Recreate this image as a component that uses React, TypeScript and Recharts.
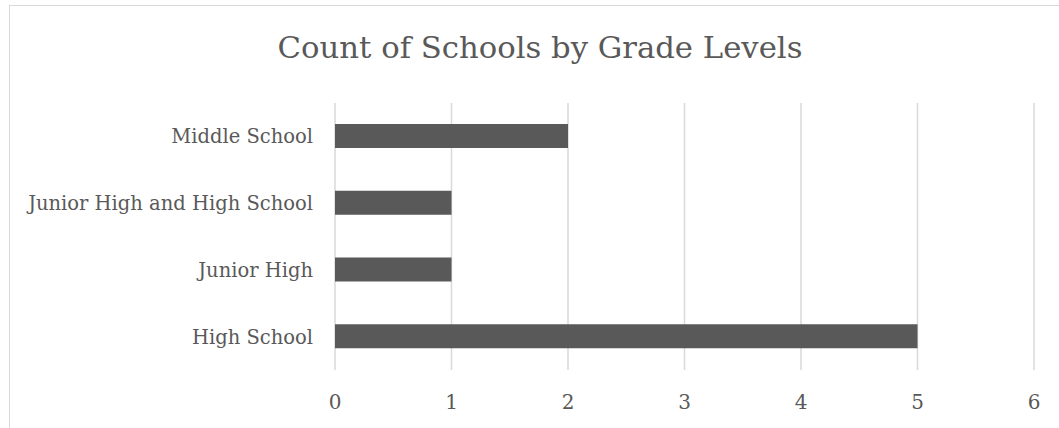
import { BarChart, Bar, XAxis, YAxis, CartesianGrid } from "recharts";

const categories = [
  "Middle School",
  "Junior High and High School",
  "Junior High",
  "High School",
];
const schoolCounts = [2, 1, 1, 5];
const xTicks = [0, 1, 2, 3, 4, 5, 6];

const data = categories.map((name, i) => ({ name, count: schoolCounts[i] }));

const FONT = "'DejaVu Serif', serif";
const TEXT = "#595959";

export default function App() {
  return (
    <div
      style={{
        position: "absolute",
        left: 9,
        top: 5,
        width: 1060,
        height: 430,
        border: "1px solid #d9d9d9",
        background: "#fff",
        fontFamily: FONT,
      }}
    >
      <div
        style={{
          position: "absolute",
          left: 0,
          width: 1060,
          top: 24,
          textAlign: "center",
          fontSize: 30.7,
          color: TEXT,
          lineHeight: "36px",
        }}
      >
        Count of Schools by Grade Levels
      </div>
      <BarChart
        width={1050}
        height={423}
        data={data}
        layout="vertical"
        margin={{ top: 97, right: 26, bottom: 0, left: 0 }}
      >
        <CartesianGrid horizontal={false} stroke="#d9d9d9" strokeWidth={1.5} />
        <XAxis
          type="number"
          domain={[0, 6]}
          ticks={xTicks}
          height={59}
          axisLine={false}
          tickLine={false}
          tickSize={0}
          tickMargin={25}
          tick={{ fill: TEXT, fontSize: 20, fontFamily: FONT }}
        />
        <YAxis
          type="category"
          dataKey="name"
          width={325}
          axisLine={false}
          tickLine={false}
          tickSize={0}
          tickMargin={22}
          tick={{ fill: TEXT, fontSize: 19.5, fontFamily: FONT }}
        />
        <Bar dataKey="count" fill="#595959" barSize={24} isAnimationActive={false} />
      </BarChart>
    </div>
  );
}
